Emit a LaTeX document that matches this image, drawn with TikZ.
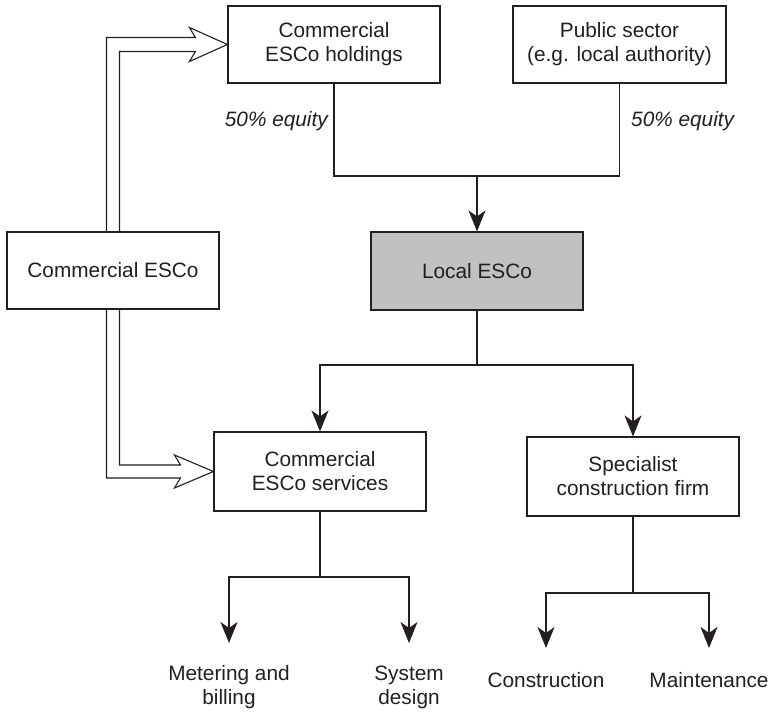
\documentclass[tikz,border=0pt]{standalone}
\usepackage{fontspec}
\setmainfont{Liberation Sans}
\usetikzlibrary{arrows.meta,calc}
\definecolor{ink}{RGB}{35,31,32}
\definecolor{boxgray}{RGB}{192,193,195}
\begin{document}
\begin{tikzpicture}[x=1pt,y=-1pt,
  every node/.style={font=\fontsize{20.8}{24}\selectfont, text=ink},
  box/.style={draw=ink, line width=1.1pt, minimum width=212pt, minimum height=77pt, align=center, inner sep=0pt},
  conn/.style={draw=ink, line width=1.1pt},
  arr/.style={conn, -{Stealth[length=21pt,width=17pt,inset=6pt]}},
  dbl/.style={draw=ink, line width=1.1pt, line join=miter},
  leafA/.style={align=center, inner xsep=0pt, inner ysep=22.6pt, anchor=north},
  leafB/.style={align=center, inner xsep=0pt, inner ysep=24.6pt, anchor=north},
  eq/.style={font=\fontsize{20.8}{24}\selectfont\itshape, inner sep=0pt}]
\useasboundingbox (0,0) rectangle (772,714);

% boxes
\node[box] (hold) at (334,44.5) {Commercial\\ESCo holdings};
\node[box, minimum width=213pt] (pub) at (619.5,44.5) {Public sector\\(e.g. local authority)};
\node[box] (cesco) at (113,270.5) {Commercial ESCo};
\node[box, fill=boxgray, minimum height=78pt] (local) at (477,271) {Local ESCo};
\node[box, minimum height=79pt] (serv) at (320,471.5) {Commercial\\ESCo services};
\node[box, minimum height=79pt] (spec) at (633,476.5) {Specialist\\construction firm};

% leaves
\node[leafA] (meter) at (229,643) {Metering and\\billing};
\node[leafA] (sysd) at (409,643) {System\\design};
\node[leafB] (constr) at (546,648) {Construction};
\node[leafB] (maint) at (709,648) {Maintenance};

% equity labels
\node[eq, anchor=east] (eqL) at (328,121) {50\% equity};
\node[eq, anchor=west] (eqR) at (631,121) {50\% equity};

% ownership connector
\coordinate (j1) at (477,176);
\draw[conn] (hold.south) |- (j1) -| (pub.south);
\draw[arr] (j1) -- (local.north);

% local ESCo to subsidiaries
\coordinate (j2) at (477,365);
\draw[conn] (local.south) -- (j2);
\draw[arr] (j2) -| (serv.north);
\draw[arr] (j2) -| (spec.north);

% services branches
\coordinate (j3) at (320,577);
\draw[conn] (serv.south) -- (j3);
\draw[arr] (j3) -| (meter.north);
\draw[arr] (j3) -| (sysd.north);

% construction branches
\coordinate (j4) at (633,593);
\draw[conn] (spec.south) -- (j4);
\draw[arr] (j4) -| (constr.north);
\draw[arr] (j4) -| (maint.north);

% hollow double arrows
\draw[dbl] ([xshift=-6.5pt]cesco.north) |- ([xshift=-32pt,yshift=7pt]hold.west)
  -- ([xshift=-38pt,yshift=17pt]hold.west) -- (hold.west)
  -- ([xshift=-38pt,yshift=-17pt]hold.west) -- ([xshift=-32pt,yshift=-7pt]hold.west)
  -| ([xshift=6.5pt]cesco.north);
\draw[dbl] ([xshift=6.5pt]cesco.south) |- ([xshift=-33pt,yshift=6.5pt]serv.west)
  -- ([xshift=-39pt,yshift=16.5pt]serv.west) -- (serv.west)
  -- ([xshift=-39pt,yshift=-16.5pt]serv.west) -- ([xshift=-33pt,yshift=-6.5pt]serv.west)
  -| ([xshift=-6.5pt]cesco.south);
\end{tikzpicture}
\end{document}
